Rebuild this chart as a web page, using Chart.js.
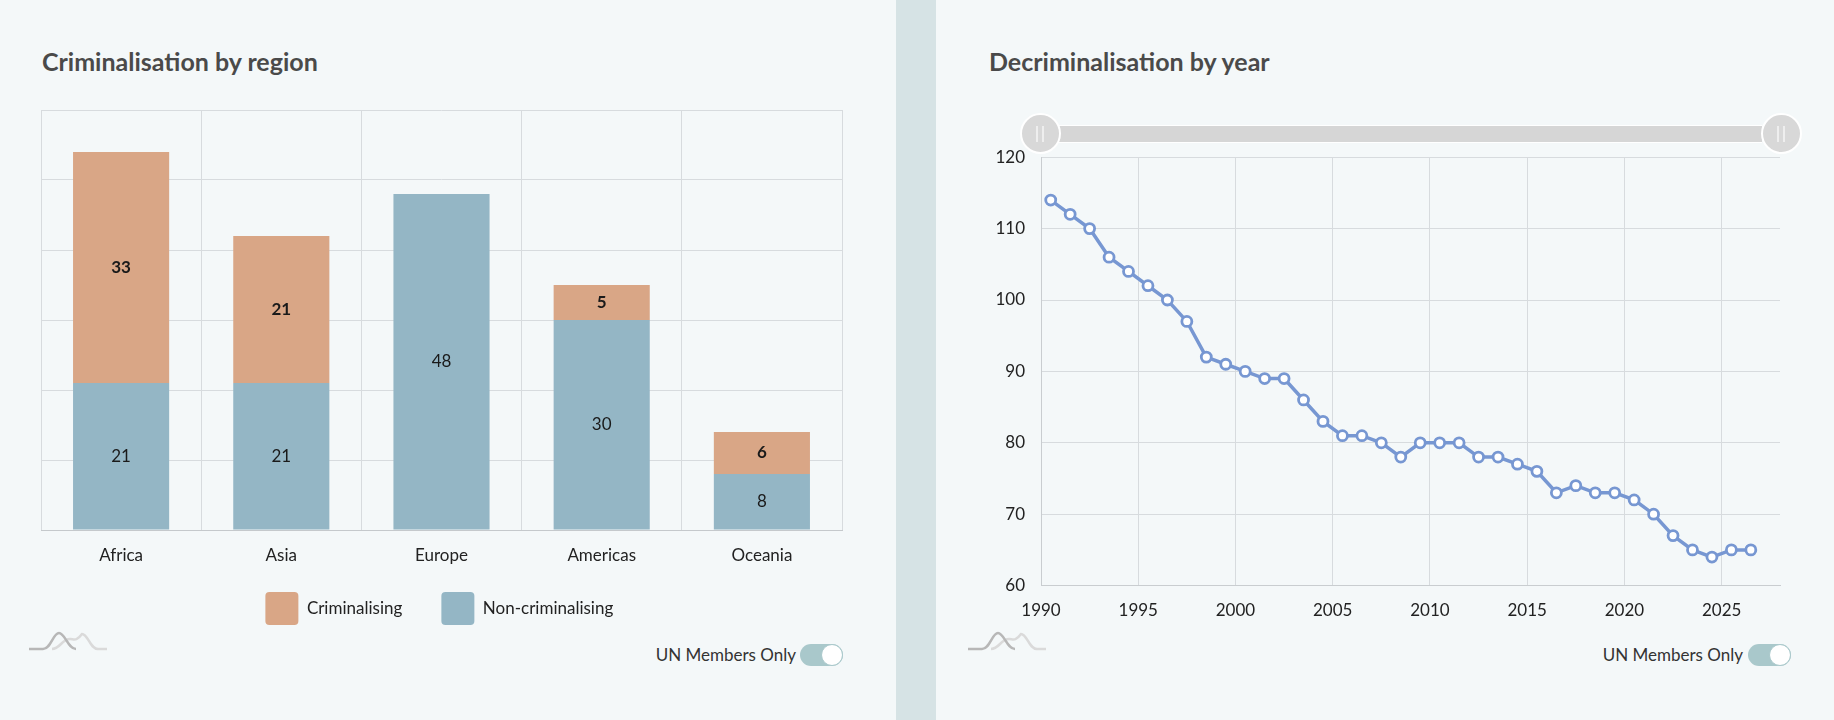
<!DOCTYPE html>
<html>
<head>
<meta charset="utf-8">
<script src="https://cdn.jsdelivr.net/npm/chart.js@4.4.1/dist/chart.umd.min.js"></script>
<style>
  html, body { margin: 0; padding: 0; }
  body { width: 1834px; height: 720px; background: #f4f8f9; position: relative; overflow: hidden; font-family: Lato, sans-serif; }
  .sep { position: absolute; left: 896px; top: 0; width: 40px; height: 720px; background: #d6e3e5; }
  .title { position: absolute; top: 46px; font-size: 25px; font-weight: 700; color: #4a4a4a; line-height: 30px; white-space: nowrap; }
  canvas { position: absolute; }
  .logo { position: absolute; top: 626px; width: 80px; height: 30px; }
  .toggle-text { position: absolute; top: 644px; font-size: 17px; color: #333; line-height: 22px; text-align: right; width: 160px; }
  .toggle { position: absolute; top: 644px; width: 43px; height: 22px; border-radius: 11px; background: #a9c8cb; }
  .toggle::after { content: ''; position: absolute; right: 0; top: 0; width: 22px; height: 22px; box-sizing: border-box; border-radius: 50%; background: #fff; border: 1px solid #a9c8cb; }
  .track { position: absolute; left: 1058px; top: 125px; width: 704px; height: 16px; background: #d6d6d6; border-top: 1px solid #fff; border-bottom: 1px solid #fff; }
  .handle { position: absolute; top: 113px; width: 41px; height: 41px; box-sizing: border-box; border-radius: 50%; background: #d8d8d8; border: 2px solid #fff; }
  .handle::before, .handle::after { content: ''; position: absolute; top: 11px; width: 2px; height: 16px; background: #eeeeee; }
  .handle::before { left: 14px; }
  .handle::after { left: 20px; }
</style>
</head>
<body>
<div class="sep"></div>

<div class="title" style="left:42px">Criminalisation by region</div>
<canvas id="regionChart" width="811" height="531" style="left:36px; top:104px"></canvas>
<svg class="logo" style="left:27px" viewBox="0 0 80 30">
  <path d="M25 23 C33 23 35 13 43 13 C47 13 49 16 55 8 C61 8 63 23 71 23 L80 23" fill="none" stroke="#dadada" stroke-width="2.5"/>
  <path d="M2 23 L16 23 C24 23 26 7 32 7 C38 7 41 23 49 23" fill="none" stroke="#b7b7b7" stroke-width="2.5"/>
</svg>
<div class="toggle-text" style="left:636px">UN Members Only</div>
<div class="toggle" style="left:800px"></div>

<div class="title" style="left:989px">Decriminalisation by year</div>
<div class="track"></div>
<div class="handle" style="left:1020px"></div>
<div class="handle" style="left:1761px"></div>
<canvas id="yearChart" width="805" height="505" style="left:985px; top:131px"></canvas>
<svg class="logo" style="left:966px" viewBox="0 0 80 30">
  <path d="M25 23 C33 23 35 13 43 13 C47 13 49 16 55 8 C61 8 63 23 71 23 L80 23" fill="none" stroke="#dadada" stroke-width="2.5"/>
  <path d="M2 23 L16 23 C24 23 26 7 32 7 C38 7 41 23 49 23" fill="none" stroke="#b7b7b7" stroke-width="2.5"/>
</svg>
<div class="toggle-text" style="left:1583px">UN Members Only</div>
<div class="toggle" style="left:1748px"></div>

<script>
// region chart data
const regions = ['Africa', 'Asia', 'Europe', 'Americas', 'Oceania'];
const criminalising = [33, 21, 0, 5, 6];
const nonCriminalising = [21, 21, 48, 30, 8];

// year chart data (counted mid-year)
const years = [1990, 1991, 1992, 1993, 1994, 1995, 1996, 1997, 1998, 1999,
  2000, 2001, 2002, 2003, 2004, 2005, 2006, 2007, 2008, 2009,
  2010, 2011, 2012, 2013, 2014, 2015, 2016, 2017, 2018, 2019,
  2020, 2021, 2022, 2023, 2024, 2025, 2026];
const countries = [114, 112, 110, 106, 104, 102, 100, 97, 92, 91,
  90, 89, 89, 86, 83, 81, 81, 80, 78, 80,
  80, 80, 78, 78, 77, 76, 73, 74, 73, 73,
  72, 70, 67, 65, 64, 65, 65];

const GRID = '#d7dbde';
Chart.defaults.font.family = 'Lato, sans-serif';
Chart.defaults.font.size = 17;
Chart.defaults.color = '#222';

// writes the value in the middle of each stacked segment
const barValues = {
  id: 'barValues',
  afterDatasetsDraw(chart) {
    const ctx = chart.ctx;
    ctx.save();
    ctx.textAlign = 'center';
    ctx.textBaseline = 'middle';
    ctx.fillStyle = '#1a1a1a';
    chart.data.datasets.forEach((ds, i) => {
      const meta = chart.getDatasetMeta(i);
      ctx.font = (ds.label === 'Criminalising' ? 'bold ' : '') + '17px Lato, sans-serif';
      meta.data.forEach((bar, j) => {
        const v = ds.data[j];
        if (!v) return;
        ctx.fillText(String(v), bar.x, (bar.y + bar.base) / 2);
      });
    });
    ctx.restore();
  }
};

// extra trailing space per legend entry (keeps the vertical padding small)
const legendTail = { 'Criminalising': '   ', 'Non-criminalising': ' ' };

new Chart(document.getElementById('regionChart'), {
  type: 'bar',
  data: {
    labels: regions,
    datasets: [
      { label: 'Non-criminalising', data: nonCriminalising, backgroundColor: '#94b6c5' },
      { label: 'Criminalising', data: criminalising, backgroundColor: '#d9a686' }
    ]
  },
  options: {
    responsive: false,
    animation: false,
    layout: { padding: { left: 5, right: 5, top: 6, bottom: 0 } },
    datasets: { bar: { barPercentage: 0.6, categoryPercentage: 1 } },
    scales: {
      x: {
        stacked: true,
        grid: { color: GRID, drawTicks: false, offset: true },
        border: { color: '#c5c9cc' },
        ticks: { padding: 15, color: '#222' },
        afterFit: s => { s.height = 36; }
      },
      y: {
        stacked: true, min: 0, max: 60,
        ticks: { display: false, stepSize: 10 },
        grid: { color: GRID, drawTicks: false },
        border: { display: false }
      }
    },
    plugins: {
      legend: {
        position: 'bottom',
        reverse: true,
        labels: {
          boxWidth: 33, boxHeight: 33, padding: 26, useBorderRadius: true, borderRadius: 4, color: '#222',
          generateLabels: chart => Chart.defaults.plugins.legend.labels.generateLabels(chart)
            .map(item => Object.assign(item, { text: item.text + (legendTail[item.text] || '') }))
        }
      },
      tooltip: { enabled: false }
    }
  },
  plugins: [barValues]
});

new Chart(document.getElementById('yearChart'), {
  type: 'line',
  data: {
    datasets: [{
      label: 'Countries criminalising',
      data: years.map((y, i) => ({ x: y + 0.5, y: countries[i] })),
      borderColor: '#7797d2',
      borderWidth: 3.5,
      pointRadius: 5,
      pointBorderWidth: 2.8,
      pointBackgroundColor: '#ffffff',
      pointBorderColor: '#7797d2',
      tension: 0
    }]
  },
  options: {
    responsive: false,
    animation: false,
    layout: { padding: { top: 0, right: 10, left: 0, bottom: 0 } },
    scales: {
      x: {
        type: 'linear', min: 1990, max: 2028,
        ticks: { stepSize: 5, includeBounds: false, padding: 15, callback: v => String(v) },
        grid: { color: GRID, drawTicks: false },
        border: { color: '#c9cdd0' }
      },
      y: {
        min: 60, max: 120,
        ticks: { stepSize: 10, padding: 16 },
        grid: { color: GRID, drawTicks: false },
        border: { color: '#c9cdd0' },
        afterFit: s => { s.width = 56; }
      }
    },
    plugins: { legend: { display: false }, tooltip: { enabled: false } }
  }
});
</script>
</body>
</html>
